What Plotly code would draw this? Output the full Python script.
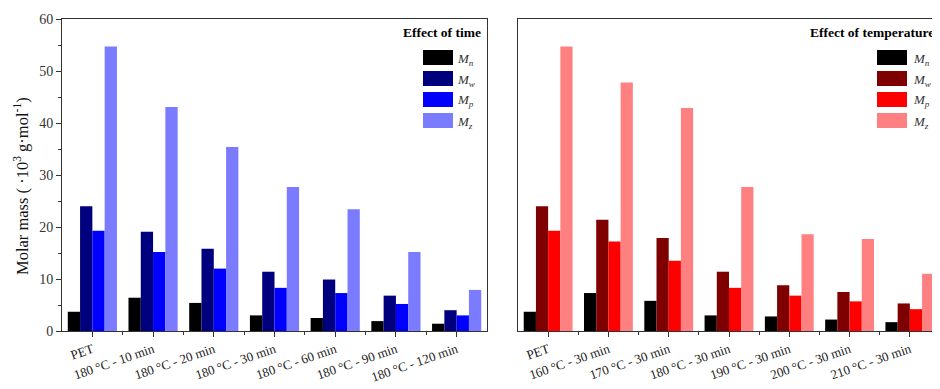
import plotly.graph_objects as go

# ---- data ----
time_labels = ["PET", "180 °C - 10 min", "180 °C - 20 min", "180 °C - 30 min",
               "180 °C - 60 min", "180 °C - 90 min", "180 °C - 120 min"]
temp_labels = ["PET", "160 °C - 30 min", "170 °C - 30 min", "180 °C - 30 min",
               "190 °C - 30 min", "200 °C - 30 min", "210 °C - 30 min"]

time_Mn = [3.7, 6.4, 5.4, 3.0, 2.5, 1.9, 1.4]
time_Mw = [24.0, 19.1, 15.8, 11.4, 9.9, 6.8, 4.0]
time_Mp = [19.3, 15.2, 12.0, 8.3, 7.3, 5.2, 3.0]
time_Mz = [54.7, 43.1, 35.4, 27.7, 23.4, 15.2, 7.9]

temp_Mn = [3.7, 7.3, 5.8, 3.0, 2.8, 2.2, 1.7]
temp_Mw = [24.0, 21.4, 17.9, 11.4, 8.8, 7.5, 5.3]
temp_Mp = [19.3, 17.2, 13.5, 8.3, 6.8, 5.7, 4.2]
temp_Mz = [54.7, 47.8, 42.9, 27.7, 18.6, 17.7, 11.0]

series_names = ["<i>M</i><sub><i>n</i></sub>", "<i>M</i><sub><i>w</i></sub>",
                "<i>M</i><sub><i>p</i></sub>", "<i>M</i><sub><i>z</i></sub>"]
time_colors = ["#000000", "#00007f", "#0000ff", "#7b7bff"]
temp_colors = ["#000000", "#7f0000", "#ff0000", "#ff8080"]

# page body has an 8px margin; the figure is drawn from (8, 8)
OFF = 8
W, H = 940 - OFF, 389 - OFF
FONT = "Liberation Serif, Times New Roman, serif"
ML, MR, MT, MB = 62 - OFF, 0, 19 - OFF, 58
PW = W - ML - MR
PH = H - MT - MB


def fx(x):
    """screen pixel x -> plot-area paper fraction"""
    return (x - OFF - ML) / PW


def fy(y):
    """screen pixel y -> plot-area paper fraction"""
    return (H - MB - (y - OFF)) / PH


fig = go.Figure()
xs = list(range(7))
for i, (vals, col) in enumerate(zip([time_Mn, time_Mw, time_Mp, time_Mz], time_colors)):
    fig.add_trace(go.Bar(x=xs, y=vals, marker_color=col, marker_line_width=0,
                         name=series_names[i], xaxis="x", yaxis="y",
                         offsetgroup=str(i), showlegend=False))
for i, (vals, col) in enumerate(zip([temp_Mn, temp_Mw, temp_Mp, temp_Mz], temp_colors)):
    fig.add_trace(go.Bar(x=xs, y=vals, marker_color=col, marker_line_width=0,
                         name=series_names[i], xaxis="x2", yaxis="y2",
                         offsetgroup=str(i), showlegend=False))

axis_common = dict(showline=True, linecolor="#333333", linewidth=1, mirror=True,
                   showgrid=False, zeroline=False, automargin=False)
tickfont = dict(family=FONT, size=13, color="#1a1a1a")
ytickfont = dict(family=FONT, size=14, color="#333333")

fig.update_layout(
    width=W, height=H,
    margin=dict(l=ML, r=MR, t=MT, b=MB, pad=0, autoexpand=False),
    paper_bgcolor="white", plot_bgcolor="white",
    barmode="group", bargap=0.19, bargroupgap=0,
    showlegend=False,
    font=dict(family=FONT, size=13, color="#222222"),
    xaxis=dict(domain=[0, fx(487)], range=[-0.5, 6.5], tickmode="array",
               tickvals=xs, ticktext=time_labels, tickangle=-19, tickfont=tickfont,
               ticks="outside", ticklen=5, tickcolor="#333333",
               minor=dict(tickmode="array", tickvals=[x + 0.5 for x in xs[:-1]],
                          ticks="outside", ticklen=3, tickcolor="#333333"),
               anchor="y", **axis_common),
    yaxis=dict(domain=[0, 1], range=[0, 60], dtick=10, ticks="outside", ticklen=5,
               tickcolor="#333333", tickfont=ytickfont,
               minor=dict(dtick=5, ticks="outside", ticklen=3, tickcolor="#333333"),
               anchor="x", **axis_common),
    xaxis2=dict(domain=[fx(518), 1.0], range=[-0.5, 6.5], tickmode="array",
                tickvals=xs, ticktext=temp_labels, tickangle=-19, tickfont=tickfont,
                ticks="outside", ticklen=5, tickcolor="#333333",
                minor=dict(tickmode="array", tickvals=[x + 0.5 for x in xs[:-1]],
                           ticks="outside", ticklen=3, tickcolor="#333333"),
                anchor="y2", **axis_common),
    yaxis2=dict(domain=[0, 1], range=[0, 60], showticklabels=False, ticks="",
                anchor="x2", **axis_common),
)

# y-axis title
fig.add_annotation(x=fx(21), y=fy(186), xref="paper", yref="paper",
                   xanchor="center", yanchor="middle",
                   text="Molar mass ( ·10<sup>3</sup> g·mol<sup>-1</sup>)",
                   textangle=-90, showarrow=False,
                   font=dict(family=FONT, size=16.5, color="#111111"))


def add_legend(title, title_right, sw_x, txt_x, colors):
    fig.add_annotation(x=fx(title_right), y=fy(33), xref="paper", yref="paper",
                       xanchor="right", yanchor="middle",
                       text="<b>" + title + "</b>", showarrow=False,
                       font=dict(family=FONT, size=13.5, color="#000000"))
    for k, col in enumerate(colors):
        top = 50 + 21 * k
        fig.add_shape(type="rect", xref="paper", yref="paper",
                      x0=fx(sw_x), x1=fx(sw_x + 30), y0=fy(top + 15), y1=fy(top),
                      fillcolor=col, line=dict(width=0))
        fig.add_annotation(x=fx(txt_x), y=fy(top + 9), xref="paper", yref="paper",
                           xanchor="left", yanchor="middle",
                           text=series_names[k], showarrow=False,
                           font=dict(family=FONT, size=13, color="#333333"))


add_legend("Effect of time", 483, 423, 455, time_colors)
add_legend("Effect of temperature", 936, 877, 911, temp_colors)

fig.write_html("out.html")
